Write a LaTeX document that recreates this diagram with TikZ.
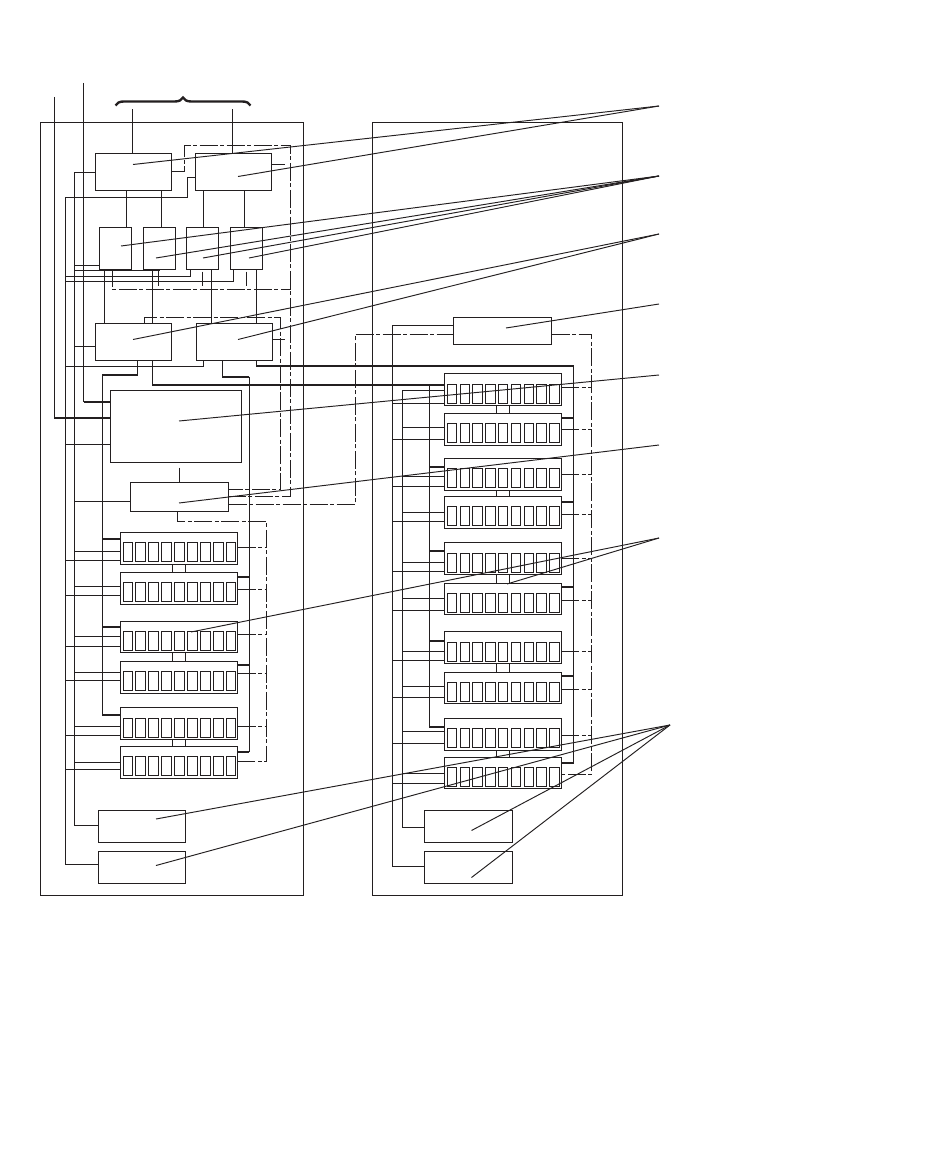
\documentclass[tikz,border=0pt]{standalone}
\usetikzlibrary{decorations.pathreplacing}
\definecolor{ink}{HTML}{231F20}
\tikzset{
  x=1pt,y=-1pt,
  every path/.style={draw=ink,line width=0.95pt},
  box/.style={draw=ink,line width=0.95pt,inner sep=0pt,outer sep=0pt,fill=none},
  wire/.style={draw=ink,line width=0.95pt},
  heavy/.style={draw=ink,line width=1.8pt},
  dashline/.style={draw=ink,line width=0.95pt,dash pattern=on 18pt off 2.5pt on 4pt off 2.5pt},
  leader/.style={draw=ink,line width=0.95pt}
}
% box by corners
\newcommand\bx[5]{%
  \pgfmathsetmacro\bw{#4-#2}\pgfmathsetmacro\bh{#5-#3}%
  \pgfmathsetmacro\bcx{(#4+#2)/2}\pgfmathsetmacro\bcy{(#5+#3)/2}%
  \node[box,minimum width=\bw pt,minimum height=\bh pt] (#1) at (\bcx,\bcy) {};}
% module with nine cells: name, x1, x2, y1, y2, cell left, cell top, cell bottom
\newcommand\cellstep{12.92}
\newcommand\cellwidth{9.6}
\newcommand\modl[8]{%
  \bx{#1}{#2}{#4}{#3}{#5}%
  \foreach \ci in {0,...,8}{%
    \pgfmathsetmacro\cxa{#6+\cellstep*\ci}\pgfmathsetmacro\cxb{\cxa+\cellwidth}%
    \bx{#1c\ci}{\cxa}{#7}{\cxb}{#8}}}
% horizontal connector at height y between two names
\newcommand\hc[4][wire]{\draw[#1] (#2 |- 0,#4) -- (#3 |- 0,#4);}
% vertical connector at x between two names
\newcommand\vc[4][wire]{\draw[#1] (#2 -| #4,0) -- (#3 -| #4,0);}
\begin{document}
\begin{tikzpicture}
\useasboundingbox[fill=white,draw=none] (0,0) rectangle (950,1161);
% frames
\bx{leftframe}{40.3}{122.3}{303.3}{895.3}
\bx{rightframe}{372.3}{122.3}{622.3}{895.3}
% upper left boxes
\bx{A}{95.3}{153.3}{171.3}{190.3}
\bx{B}{195.3}{153.3}{271.3}{190.3}
\bx{ia}{99.3}{227.3}{131.7}{269.3}
\bx{ib}{143.3}{227.3}{175.7}{269.3}
\bx{ic}{186.3}{227.3}{218.3}{269.3}
\bx{id}{230.3}{227.3}{262.7}{269.3}
\bx{P}{95.3}{323.3}{171.3}{360.3}
\bx{Q}{196.3}{323.3}{272.7}{360.3}
\bx{C}{110.3}{390.3}{241.7}{462.3}
\bx{D}{130.3}{482.3}{228.7}{511.3}
\bx{E}{453.3}{317.3}{551.7}{344.3}
\bx{Sa}{98.3}{810.3}{185.7}{842.3}
\bx{Sb}{98.3}{851.3}{185.7}{883.3}
\bx{Sc}{424.3}{810.3}{512.3}{842.3}
\bx{Sd}{424.3}{851.3}{512.3}{883.3}
% left modules
\modl{ma}{120.3}{237.7}{532.3}{564.3}{123}{542.3}{561.7}
\modl{mb}{120.3}{237.7}{572.3}{604.3}{123}{582.3}{601.7}
\modl{mc}{120.3}{237.7}{621.3}{652.6}{123}{631.3}{650.3}
\modl{md}{120.3}{237.7}{661.3}{693.3}{123}{671.3}{690.3}
\modl{me}{120.3}{237.7}{707.3}{739.3}{123}{718.3}{737.3}
\modl{mf}{120.3}{237.7}{746.3}{778.3}{123}{756.3}{775.3}
% right modules
\renewcommand\cellstep{12.8}
\renewcommand\cellwidth{9.3}
\modl{ra}{444.3}{561.3}{373.3}{405.3}{447.3}{384.3}{403.3}
\modl{rb}{444.3}{561.3}{413.3}{445.3}{447.3}{423.3}{442.3}
\modl{rc}{444.3}{561.3}{458.3}{490.3}{447.3}{468.3}{487.3}
\modl{rd}{444.3}{561.3}{496.3}{528.3}{447.3}{506.3}{525.3}
\modl{re}{444.3}{561.3}{542.3}{574.3}{447.3}{553.3}{572.3}
\modl{rf}{444.3}{561.3}{583.3}{614.3}{447.3}{593.3}{612.3}
\modl{rg}{444.3}{561.3}{631.3}{663.3}{447.3}{642.3}{661.3}
\modl{rh}{444.3}{561.3}{672.3}{703.3}{447.3}{682.3}{701.3}
\modl{ri}{444.3}{561.3}{718.3}{750.3}{447.3}{728.3}{747.3}
\modl{rj}{444.3}{561.3}{757.3}{788.3}{447.3}{767.3}{786.3}
% free ends and bus rails
\coordinate (t1) at (54.5,97);
\coordinate (t2) at (83.5,83);
\coordinate (t3) at (132.3,109.3);
\coordinate (t4) at (232.3,109.3);
\coordinate (bra) at (115.5,105.5);
\coordinate (brb) at (250.5,105.5);
\coordinate (busa) at (74.3,172.3);
\coordinate (busb) at (65.3,197.3);
\coordinate (busc) at (392.3,325.3);
\coordinate (busd) at (402.3,390.3);
\coordinate (buse) at (429.3,385);
\coordinate (pl) at (102.3,375);
\coordinate (pr) at (249.3,376.7);
\coordinate (qr) at (573.5,366.3);
\coordinate (dsa) at (290.6,145.7);
\coordinate (dsb) at (280.6,317.7);
\coordinate (dsc) at (266.7,521.3);
\coordinate (dsd) at (355.3,334.3);
\coordinate (dse) at (591.7,334.3);
% brace and top wires
\draw[decorate,decoration={brace,amplitude=8pt},line width=2.4pt,draw=ink] (bra) -- (brb);
\draw[wire] (t3) -- (A.north -| t3);
\draw[wire] (t4) -- (B.north -| t4);
\draw[wire] (t1) |- (C.west |- 0,418) ;
\draw[heavy] (t1 |- 0,418) -- (C.west |- 0,418);
\draw[wire] (t2) -- (t2 |- 0,402);
\draw[heavy] (t2 |- 0,402) -- (C.west |- 0,402);
% A,B to inner boxes
\vc{A.south}{ia.north}{126.7}
\vc{A.south}{ib.north}{161.3}
\vc{B.south}{ic.north}{203.3}
\vc{B.south}{id.north}{244.3}
% inner boxes to P,Q
\vc{ia.south}{P.north}{104.3}
\vc{ib.south}{P.north}{152.3}
\vc{ic.south}{Q.north}{211.3}
\vc{id.south}{Q.north}{256.3}
% ticks under inner boxes
\coordinate (tk) at (0,286);
\draw[wire] (ib.south -| 158.3,0) -- (158.3,0 |- tk);
\draw[wire] (202.3,271.7) -- (202.3,0 |- tk);
\draw[wire] (246.3,271.7) -- (246.3,0 |- tk);
% buses
\draw[wire] (busa) -- (A.west |- busa);
\draw[wire] (busa) |- (Sa.west |- 0,825.3);
\draw[wire] (busb) |- (Sb.west |- 0,864.3);
\draw[wire] (busb) -- (187.3,197.3) |- (B.west |- 0,177.7);
\hc{busa}{ia.west}{265.3}
\draw[wire] (busa |- 0,270.7) -- (ib.south |- 0,270.7);
\draw[wire] (busb |- 0,276.7) -| (ic.south -| 190.7,0);
\draw[wire] (busb |- 0,281.3) -| (id.south -| 233.3,0);
\hc{busa}{P.west}{346.3}
\draw[wire] (busb |- 0,366.3) -| (Q.south -| 203.7,0);
\hc{busb}{C.west}{444.3}
\hc{busa}{D.west}{501.3}
% C to D tick
\draw[wire] (179.7,467.7) -- (D.north -| 179.7,0);
% lines from P, Q
\draw[wire] (P.south -| 137.7,0) -- (137.7,0 |- pl);
\draw[heavy] (137.7,0 |- pl) -- (pl);
\draw[wire] (pl) -- (pl |- 0,715);
\draw[wire] (P.south -| 152.3,0) -- (152.3,385);
\draw[heavy] (152.3,385) -- (ra.west |- 0,385);
\draw[wire] (Q.south -| 222.3,0) -- (222.3,0 |- pr);
\draw[heavy] (222.3,0 |- pr) -- (pr);
\draw[wire] (pr) -- (pr |- 0,752);
\draw[wire] (Q.south -| 256.3,0) -- (256.3,0 |- qr);
\draw[heavy] (256.3,0 |- qr) -- (qr);
\draw[wire] (qr) -- (qr |- 0,762.7);
% left module wires
\foreach \m/\ya/\yb in {ma/551.3/560.3,mb/586.3/595.3,mc/636.3/646.3,md/672.3/680.3,me/726.3/735.3,mf/762.3/769.3}{
  \hc{busa}{\m.west}{\ya}
  \hc{busb}{\m.west}{\yb}
}
\foreach \m/\y in {ma/539,mc/626.7,me/715}{\hc[heavy]{pl}{\m.west}{\y}}
\foreach \m/\y in {mb/577,md/664.7,mf/752}{\hc[heavy]{\m.east}{pr}{\y}}
\foreach \a/\b in {ma/mb,mc/md,me/mf}{
  \vc{\a.south}{\b.north}{172.3}
  \vc{\a.south}{\b.north}{185.3}
}
% right module wires
\draw[wire] (busc) -- (E.west |- busc);
\draw[wire] (busc) |- (Sd.west |- 0,866.3);
\draw[wire] (busd) -- (ra.west |- busd);
\draw[wire] (busd) |- (Sc.west |- 0,827.3);
\hc{busc}{ra.west}{403.3}
\foreach \m/\ya/\yb in {rb/427.3/439.3,rc/476.7/486,rd/512.3/521.3,re/562.3/571.3,rf/598.3/610.3,rg/651.3/660.3,rh/686.3/697.3,ri/731.3/743.3,rj/773.3/783.3}{
  \hc{busd}{\m.west}{\ya}
  \hc{busc}{\m.west}{\yb}
}
\draw[wire] (buse) -- (buse |- 0,726.7);
\foreach \m/\y in {rc/466.7,re/550.7,rg/640.7,ri/726.7}{\hc[heavy]{buse}{\m.west}{\y}}
\foreach \m/\y in {rb/418,rd/501.7,rf/587,rh/675.7,rj/762.7}{\hc[heavy]{\m.east}{qr}{\y}}
\foreach \a/\b in {ra/rb,rc/rd,re/rf,rg/rh,ri/rj}{
  \vc{\a.south}{\b.north}{496.3}
  \vc{\a.south}{\b.north}{509.3}
}
% dash-dot control lines
\draw[dashline] (A.east |- 0,171.3) -| (184.3,0 |- dsa) -- (dsa) -- (dsa |- 0,496) -- (D.east |- 0,496);
\draw[dashline] (B.east |- 0,164.3) -- (285,164.3);
\draw[dashline] (ia.south -| 112.3,0) -- (112.3,289.7) -- (dsa |- 0,289.7);
\draw[dashline] (P.north -| 144.7,0) -- (144.7,0 |- dsb) -- (dsb) -- (dsb |- 0,489.3) -- (D.east |- 0,489.3);
\draw[dashline] (Q.east |- 0,339.7) -- (285,339.7);
\draw[dashline] (D.east |- 0,504.3) -- (dsd |- 0,504.3) -- (dsd) -- (E.west |- dsd);
\draw[dashline] (E.east |- dse) -- (dse) -- (dse |- 0,774.3) -- (rj.east |- 0,774.3);
\draw[dashline] (D.south -| 177.3,0) -- (177.3,0 |- dsc) -- (dsc) -- (dsc |- 0,761.3) -- (mf.east |- 0,761.3);
\foreach \m/\y in {ma/547.3,mb/589.3,mc/634.3,md/673.3,me/726.3}{\draw[dashline] (\m.east |- 0,\y) -- (dsc |- 0,\y);}
\foreach \m/\y in {ra/387.3,rb/429.3,rc/474.3,rd/514.3,re/558.3,rf/600.3,rg/651.3,rh/689.3,ri/735.3}{\draw[dashline] (\m.east |- 0,\y) -- (dse |- 0,\y);}
% leader lines
\coordinate (la) at (659,106);
\coordinate (lb) at (659,176);
\coordinate (lc) at (659,234);
\coordinate (ld) at (659,304);
\coordinate (le) at (659,375);
\coordinate (lf) at (659,445);
\coordinate (lg) at (659,538);
\coordinate (lh) at (670,725);
\coordinate (pa1) at (133,164.5);
\coordinate (pa2) at (238,176.5);
\coordinate (pb1) at (121,246);
\coordinate (pb2) at (156,258);
\coordinate (pb3) at (203,258);
\coordinate (pb4) at (249,258);
\coordinate (pc1) at (133,339.5);
\coordinate (pc2) at (238,339.5);
\coordinate (pd1) at (506,328);
\coordinate (pe1) at (179,421);
\coordinate (pf1) at (179,503);
\coordinate (pg1) at (191,632);
\coordinate (pg2) at (507,584);
\coordinate (ph1) at (156,819);
\coordinate (ph2) at (156,865.5);
\coordinate (ph3) at (471.5,830.5);
\coordinate (ph4) at (471.5,877.5);
\foreach \a/\b in {la/pa1,la/pa2,lb/pb1,lb/pb2,lb/pb3,lb/pb4,lc/pc1,lc/pc2,ld/pd1,le/pe1,lf/pf1,lg/pg1,lg/pg2,lh/ph1,lh/ph2,lh/ph3,lh/ph4}{
  \draw[leader] (\a) -- (\b);
}
\end{tikzpicture}
\end{document}
